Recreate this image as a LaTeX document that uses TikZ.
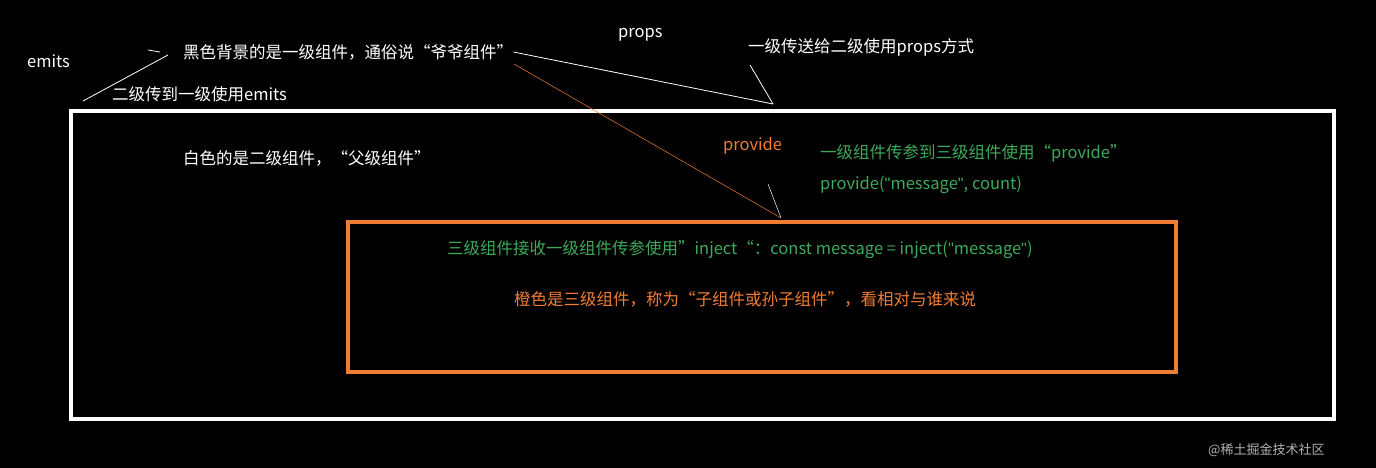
\documentclass[tikz,border=0pt]{standalone}
\usepackage{fontspec}
\setmainfont{Noto Sans CJK SC}
\newfontfamily\latin{Liberation Sans}
\newcommand{\q}{{\latin"}}
\usetikzlibrary{positioning}
\definecolor{grn}{RGB}{60,170,90}
\definecolor{org}{RGB}{240,125,50}
\tikzset{txt/.style={anchor=west,inner sep=0pt,font=\fontsize{16.5}{18}\selectfont},
         thin line/.style={line width=0.8pt}}
\begin{document}
\begin{tikzpicture}[x=1pt,y=-1pt]
  \fill[black] (0,0) rectangle (1376,468);
  \useasboundingbox (0,0) rectangle (1376,468);
  % boxes
  \draw[white,line width=4pt] (71,111) rectangle (1334,419);
  \draw[org,line width=4pt] (348,222) rectangle (1176,372);
  % texts
  \node[txt,white] (emits) at (27,61) {emits};
  \node[txt,white] (black) at (183,52) {黑色背景的是一级组件，通俗说“爷爷组件”};
  \node[txt,white] (props) at (618,35) {props};
  \node[txt,white] (propsway) at (748,47) {一级传送给二级使用props方式};
  \node[txt,white] (emitsway) at (112,94) {二级传到一级使用emits};
  \node[txt,white] (white) at (183,158) {白色的是二级组件，“父级组件”};
  \node[txt,org] (provide) at (723,146) {provide};
  \node[txt,grn] (provway) at (820,153) {一级组件传参到三级组件使用“provide”};
  \node[txt,grn] (provcode) at (820,185) {provide(\q message\q, count)};
  \node[txt,grn] (inject) at (447,250) {三级组件接收一级组件传参使用”inject“：const message = inject(\q message\q)};
  \node[txt,org] (orange) at (514,299) {橙色是三级组件，称为“子组件或孙子组件”，看相对与谁来说};
  \node[txt,gray!60,font=\fontsize{13}{15}\selectfont] (mark) at (1208,450) {@稀土掘金技术社区};
  % pointers
  \coordinate (e1) at (83,101);
  \coordinate (e2) at (168,55);
  \coordinate (p1) at (773,104);
  \coordinate (o1) at (781,218);
  \draw[white,thin line] (e1) -- (e2);
  \draw[white,thin line] (148,50) -- (160,52);
  \draw[white,thin line] (black.east) -- (p1);
  \draw[white,thin line] (propsway.west) ++(2,18) -- (p1);
  \draw[org,line width=0.5pt] (514,64) -- (o1);
  \draw[white,line width=0.5pt] (768,184) -- (o1);
\end{tikzpicture}
\end{document}
